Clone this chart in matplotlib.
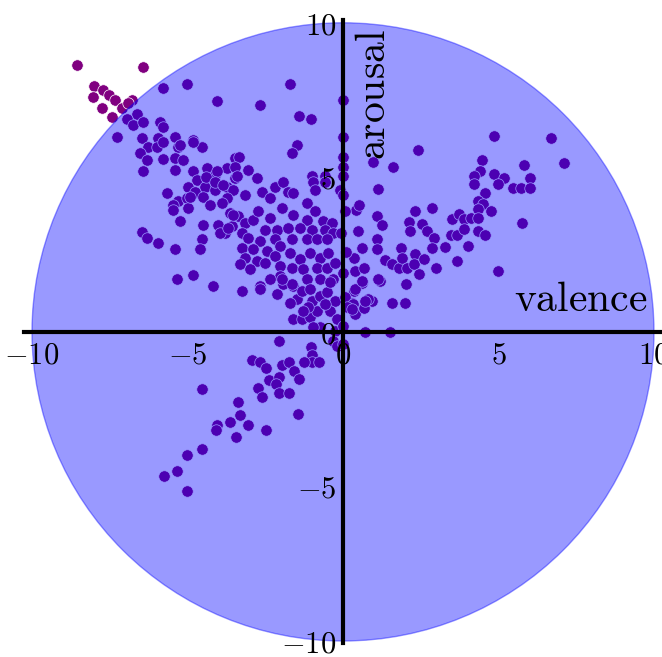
import matplotlib
matplotlib.use("Agg")
import matplotlib.pyplot as plt
from matplotlib.patches import Circle

plt.rcParams['mathtext.fontset'] = 'cm'

###### DATA (valence, arousal)
valence = [
    # outside the circle, upper left
    -8.54, -6.42, -8.00, -7.71, -8.03, -7.51, -7.33, -7.76, -7.44, -7.12, -6.79, -6.90,
    # upper left arm
    -5.80, -5.03, -4.06, -6.63, -6.95, -6.74, -6.42, -5.88, -5.78, -7.26, -6.47, -6.26,
    -5.94, -5.99, -5.40, -5.30, -4.81, -4.54, -6.53, -6.31, -5.80, -5.40, -5.15, -6.42,
    -5.40, -4.81, -4.70, -4.38, -4.12, -3.74, -3.47, -4.44, -4.12, -3.74, -5.67, -4.92,
    -3.47, -5.78, -5.24, -4.81,
    # upper middle, near the arousal axis
    -1.70, -2.67, -1.41, -1.03, 0.00, 0.00, -1.49, -1.65, 0.00, 0.00, 0.00, 0.95,
    1.62, 1.14, -3.33, -3.47, -3.04, -2.77, -3.42, -3.53, -3.15, -2.61, -2.19, -1.92,
    -1.76, -1.01, -0.95, -0.58, -0.58, -0.90, -0.10, 0.00,
    # right arm
    2.41, 4.85, 6.68, 7.11, 4.47, 5.82, 4.41, 4.22, 4.22, 4.85, 5.19, 5.46,
    5.73, 6.00, 6.00, 4.98, 4.55, 4.33, 4.49, 4.76, 4.33, 5.77, 0.42, 0.53,
    1.09, 1.25, 2.33, 2.85, 2.12, 2.17, 2.55, 2.71, 2.93, 2.87, 3.28, 3.47,
    3.52, 3.74, 3.90, 3.68, 3.90, 4.11, 4.33, 4.33, 4.55, 4.01, 3.68, 5.00,
    0.47, 0.61, 1.09, 1.09, 1.36, 1.85, 1.58, 1.79, 1.90, 2.06, 2.33, 2.28,
    2.60, 2.44, 2.01, 1.20, 2.98, 0.34, 0.39, 0.66, 0.61, 0.34, 0.93, 1.58,
    1.98, 0.82, 0.28, 0.39, 0.66,
    # lower left arm
    0.71, 1.52, -2.07, -1.02, -0.99, -0.99, -0.78, -1.26, -2.92, -2.68, -2.48, -1.96,
    -1.74, -1.56, -1.42, -2.37, -2.07, -2.14, -2.73, -2.62, -2.05, -1.74, -4.52, -3.39,
    -3.30, -1.46, -3.63, -4.04, -4.08, -3.05, -2.48, -3.43, -4.54, -5.03, -5.33, -5.77,
    -5.03,
    # dense centre
    -4.06, -4.39, -4.12, -3.85, -4.97, -4.76, -5.30, -5.03, -4.49, -3.74, -2.35, -1.60,
    -5.46, -4.97, -4.28, -5.24, -3.63, -3.37, -3.15, -2.88, -2.72, -2.35, -1.97, -1.60,
    -1.17, -0.90, -1.17, -0.63, -0.36, -4.49, -4.01, -3.58, -3.79, -3.26, -3.04, -2.51,
    -2.13, -1.76, -1.38, -1.01, -0.58, -0.31, -2.67, -2.19, -2.03, -1.65, -1.17, -0.85,
    -0.52, -4.54, -4.60, -5.40, -3.26, -2.88, -2.45, -3.15, -3.31, -2.77, -2.99, -2.51,
    -2.19, -2.03, -1.70, -1.38, -1.06, -0.74, -0.47, -1.65, -1.28, -0.85, -0.52, -0.26,
    -1.17, -0.74, -0.31, -2.03, -2.35, -2.67, -1.60, -5.35, -4.81, -4.17,
    -5.46, -4.92, -6.47, -6.31, -5.94, -3.95, -3.69, -3.53, -3.90,
    -3.26, -2.67, -2.13, -1.92, -1.65, -1.49, -1.33, -1.06, -1.01, -0.74, -0.52, -0.42,
    -0.26, 0.06, 0.33, 0.39, 0.60, 0.71, 1.14, -1.60, -1.33, -1.06, -0.85, -0.74,
    -0.95, -0.42, -0.20, -0.26, 0.01, -0.31, -0.20, 0.01, -0.58, -1.12, -1.28, 0.12,
    0.28, -1.70, -1.97, 0.05, -0.05, 0.10, 0.00,
]
arousal = [
    8.65, 8.56, 7.97, 7.84, 7.60, 7.65, 7.49, 7.23, 6.95, 7.23, 7.49, 7.39,
    7.90, 8.01, 7.46, 7.06, 6.90, 6.69, 6.79, 6.79, 6.63, 6.29, 6.26, 5.99,
    6.26, 5.99, 6.29, 5.99, 6.21, 5.99, 5.78, 5.56, 5.59, 5.62, 5.56, 5.19,
    5.24, 5.19, 4.92, 5.30, 5.08, 5.30, 5.62, 4.70, 4.60, 4.70, 4.49, 4.44,
    4.97, 6.15, 6.05, 6.15,
    8.01, 7.33, 6.98, 6.88, 7.51, 6.29, 6.05, 5.78, 5.67, 5.35, 5.03, 5.51,
    5.35, 4.62, 5.67, 5.35, 5.24, 4.97, 5.03, 4.60, 4.44, 4.54, 4.70, 4.86,
    4.54, 5.03, 4.86, 5.03, 4.86, 4.60, 4.60, 4.44,
    5.87, 6.33, 6.28, 5.47, 5.55, 5.40, 5.21, 5.05, 4.79, 5.10, 4.99, 4.66,
    4.66, 4.99, 4.66, 4.79, 4.50, 4.23, 4.13, 3.91, 3.96, 3.51, 3.93, 4.10,
    3.75, 3.46, 3.91, 4.00, 3.57, 3.28, 3.50, 3.26, 3.03, 2.72, 2.74, 3.15,
    3.64, 3.80, 3.64, 3.15, 3.32, 3.69, 3.69, 3.26, 3.15, 2.78, 2.29, 1.97,
    3.26, 2.72, 2.99, 2.67, 2.32, 2.72, 2.19, 2.07, 2.40, 2.07, 2.51, 2.19,
    2.35, 1.86, 1.54, 1.64, 2.07, 2.40, 1.97, 2.07, 1.59, 1.32, 1.00, 0.94,
    0.94, 1.05, 0.94, 0.57, 0.78,
    -0.01, -0.01, -0.31, -0.49, -0.76, -0.97, -0.97, -0.97, -0.92, -0.97, -1.17, -1.08,
    -0.97, -1.28, -1.51, -1.57, -1.46, -1.67, -1.83, -2.10, -1.99, -1.99, -1.86, -2.28,
    -2.69, -2.64, -2.93, -3.01, -3.17, -3.01, -3.17, -3.39, -3.78, -3.98, -4.51, -4.65,
    -5.14,
    5.19, 5.00, 4.86, 4.76, 4.70, 4.54, 4.22, 4.33, 4.38, 4.33, 4.33, 4.49,
    4.12, 4.01, 4.12, 3.58, 3.85, 3.74, 3.53, 3.63, 3.90, 3.69, 4.01, 3.79,
    4.17, 3.90, 3.63, 3.58, 3.53, 3.47, 3.47, 3.42, 3.21, 3.21, 3.05, 3.31,
    3.31, 3.37, 3.37, 3.31, 3.31, 3.21, 2.94, 2.99, 2.77, 2.99, 2.99, 2.99,
    2.99, 2.99, 2.67, 2.67, 2.72, 2.67, 2.61, 2.40, 2.19, 2.29, 2.03, 2.24,
    2.45, 2.13, 2.56, 2.35, 2.56, 2.40, 2.56, 2.08, 2.03, 2.08, 2.08, 2.24,
    1.70, 1.70, 1.70, 1.81, 1.70, 1.49, 1.49, 1.70, 1.83, 1.49,
    3.95, 4.38, 3.22, 3.05, 2.88, 3.21, 3.37, 3.79, 4.17,
    1.33, 1.38, 1.22, 1.54, 1.54, 1.06, 1.33, 1.38, 1.01, 1.17, 1.28, 1.60,
    1.01, 1.12, 0.90, 1.38, 1.65, 1.01, 1.70, 0.42, 0.42, 0.47, 0.68, 0.15,
    0.15, 0.68, 0.42, 0.04, 0.20, -0.28, -0.44, -0.39, 0.90, 0.79, 0.68, 0.79,
    0.74, 0.95, 1.70, 3.90, 3.20, 2.60, 1.90,
]

tick_values = [-10, -5, 0, 5, 10]
tick_labels = [r'$-10$', r'$-5$', r'$0$', r'$5$', r'$10$']


###### PLOT
fig = plt.figure(figsize=(6.62, 6.57), dpi=100)
ax = fig.add_axes([0.0366, 0.022, 0.9607, 0.948])

ax.scatter(valence, arousal, s=68, color='purple', edgecolor='white',
           linewidth=0.5, zorder=1)

# circle of radius 10 laid over the points
ax.add_patch(Circle((0, 0), 10, facecolor='blue', edgecolor='blue',
                    alpha=0.4, linewidth=1, zorder=1.5))

ax.set_xlim(-10.25, 10.2)
ax.set_ylim(-10.05, 10.1)

for side in ['left', 'bottom']:
    ax.spines[side].set_position('zero')
    ax.spines[side].set_linewidth(3)
    ax.spines[side].set_zorder(3)
for side in ['top', 'right']:
    ax.spines[side].set_visible(False)

ax.set_xticks(tick_values)
ax.set_xticklabels(tick_labels)
ax.set_yticks(tick_values)
ax.set_yticklabels(tick_labels)
ax.tick_params(axis='both', length=0, labelsize=22)
ax.tick_params(axis='x', pad=6)
ax.tick_params(axis='y', pad=5)

ax.text(9.81, 0.68, r'$\mathrm{valence}$', fontsize=30, ha='right',
        va='baseline', zorder=4)
ax.text(0.96, 9.79, r'$\mathrm{arousal}$', fontsize=30, rotation=90,
        ha='center', va='top', zorder=4)

fig.savefig('out.png', dpi=100)
